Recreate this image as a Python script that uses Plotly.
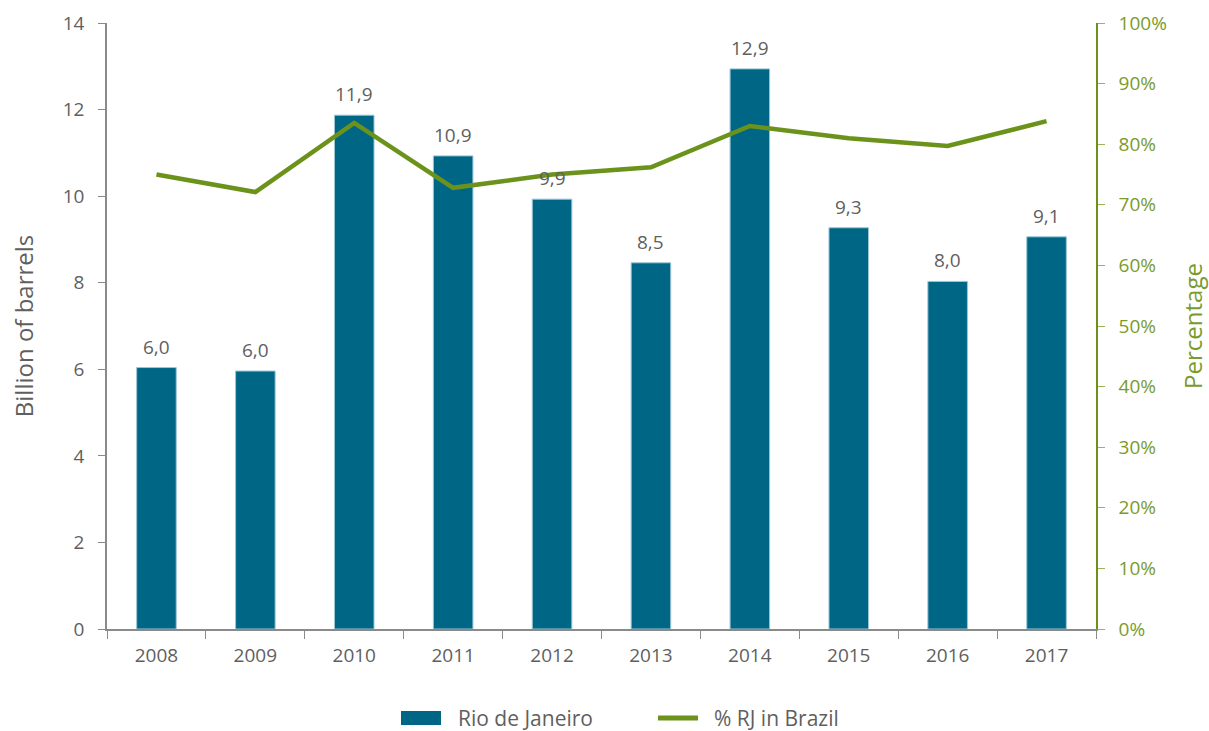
import plotly.graph_objects as go

years = ["2008", "2009", "2010", "2011", "2012", "2013", "2014", "2015", "2016", "2017"]
rio_barrels = [6.04, 5.96, 11.87, 10.93, 9.93, 8.46, 12.94, 9.27, 8.03, 9.06]
rj_share = [0.750, 0.721, 0.835, 0.728, 0.750, 0.762, 0.830, 0.810, 0.797, 0.838]

left_ticks = [0, 2, 4, 6, 8, 10, 12, 14]
right_ticks = [i / 10 for i in range(11)]

BAR = "#006685"
GREEN = "#6b921b"
GREEN_TXT = "#7a9b2c"
GRAY = "#5f5f5f"
FONT = "Open Sans"

W, H = 1209, 731
L, R, T, B = 107, 113, 23, 102
PW, PH = W - L - R, H - T - B


def px_x(p):
    return (p - L) / PW


def px_y(p):
    return (H - B - p) / PH


fig = go.Figure()
fig.add_trace(go.Bar(
    x=years, y=rio_barrels, name="Rio de Janeiro",
    marker=dict(color=BAR, line=dict(color="#9cc6d6", width=1)),
    showlegend=False,
))
fig.add_trace(go.Scatter(
    x=years, y=rj_share, name="% RJ in Brazil", yaxis="y2",
    mode="lines", line=dict(color=GREEN, width=4.5),
    showlegend=False,
))

# value labels above each bar (category index positions)
annotations = [
    dict(x=i, y=v, xref="x", yref="y", text=f"{v:.1f}".replace(".", ","),
         showarrow=False, yanchor="bottom", yshift=6,
         font=dict(family=FONT, size=19, color=GRAY))
    for i, v in enumerate(rio_barrels)
]

# legend drawn below the plot
LEG_Y = 718
shapes = [
    dict(type="rect", xref="paper", yref="paper",
         x0=px_x(401), x1=px_x(441), y0=px_y(LEG_Y + 7), y1=px_y(LEG_Y - 7),
         fillcolor=BAR, line=dict(width=0)),
    dict(type="line", xref="paper", yref="paper",
         x0=px_x(658), x1=px_x(698), y0=px_y(LEG_Y), y1=px_y(LEG_Y),
         line=dict(color=GREEN, width=5)),
]
annotations += [
    dict(x=px_x(456), y=px_y(LEG_Y), xref="paper", yref="paper", text="Rio de Janeiro",
         showarrow=False, xanchor="left", yanchor="middle",
         font=dict(family=FONT, size=21, color=GRAY)),
    dict(x=px_x(712), y=px_y(LEG_Y), xref="paper", yref="paper", text="% RJ in Brazil",
         showarrow=False, xanchor="left", yanchor="middle",
         font=dict(family=FONT, size=21, color=GRAY)),
]

fig.update_layout(
    width=W, height=H,
    margin=dict(l=L, r=R, t=T, b=B),
    paper_bgcolor="white", plot_bgcolor="white",
    separators=",.",
    font=dict(family=FONT, size=19, color=GRAY),
    bargap=0.6,
    showlegend=False,
    annotations=annotations,
    shapes=shapes,
    xaxis=dict(
        type="category", automargin=False, range=[-0.5, len(years) - 0.5],
        showline=True, linecolor="#8a8a8a", linewidth=1.5,
        ticks="outside", tickson="boundaries", ticklen=8, tickcolor="#8a8a8a",
        tickfont=dict(size=19, color=GRAY), showgrid=False, ticklabelstandoff=8,
    ),
    yaxis=dict(
        automargin=False,
        range=[0, 14], tickvals=left_ticks,
        showline=True, linecolor="#8a8a8a", linewidth=1.5,
        ticks="outside", ticklen=7, tickcolor="#8a8a8a",
        tickfont=dict(size=19, color=GRAY), showgrid=False, zeroline=False,
        ticklabelstandoff=10,
        title=dict(text="Billion of barrels", font=dict(size=24, color=GRAY), standoff=22),
    ),
    yaxis2=dict(
        automargin=False,
        overlaying="y", side="right", range=[0, 1], tickvals=right_ticks,
        tickformat=".0%",
        showline=True, linecolor=GREEN, linewidth=1.5,
        ticks="outside", ticklen=7, tickcolor="#9ab55a",
        tickfont=dict(size=19, color=GREEN_TXT), showgrid=False, zeroline=False,
        ticklabelstandoff=10,
        title=dict(text="Percentage", font=dict(size=24, color=GREEN_TXT), standoff=30),
    ),
)

fig.write_html("out.html")
